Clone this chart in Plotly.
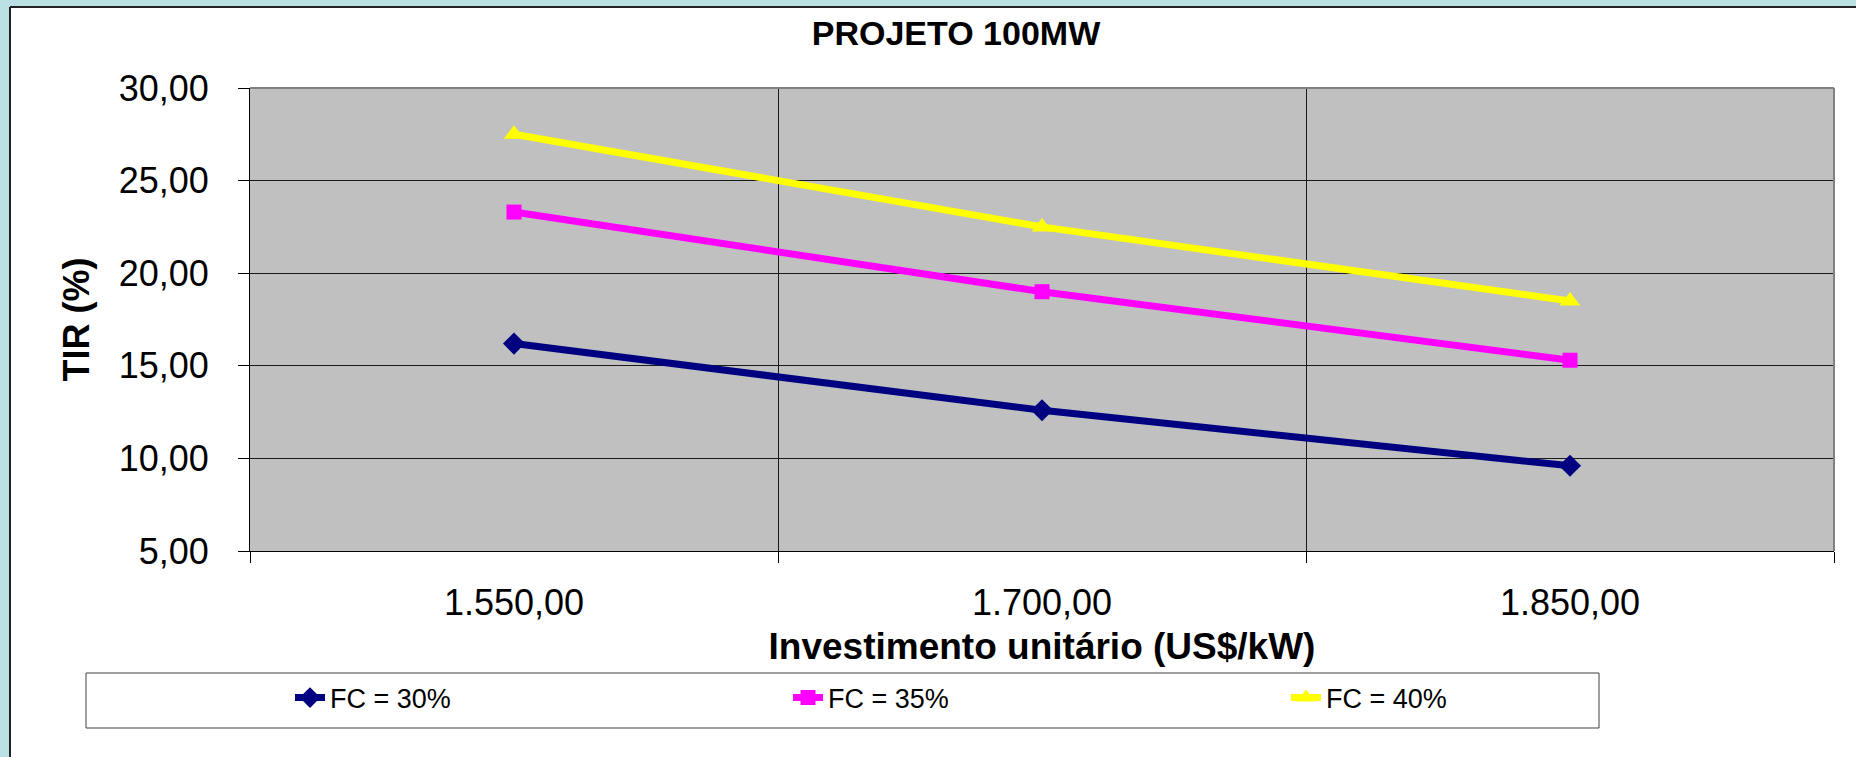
import plotly.graph_objects as go

# ---- data ----
investment = [1550, 1700, 1850]          # US$/kW
series_names = ["FC = 30%", "FC = 35%", "FC = 40%"]
tir_fc30 = [16.2, 12.6, 9.6]
tir_fc35 = [23.3, 19.0, 15.3]
tir_fc40 = [27.5, 22.5, 18.5]

colors = ["#000080", "#FF00FF", "#FFFF00"]
symbols = ["diamond", "square", "triangle-up"]
msizes = [17, 15, 18]

FONT = "Liberation Sans, Arial, sans-serif"
W, H = 1856, 757
L, R, T, B = 250, 22, 88, 206
PW, PH = W - L - R, H - T - B

def px(x):
    return (x - L) / PW

def py(y):
    return (H - B - y) / PH

step = investment[1] - investment[0]
x_lo = investment[0] - step / 2
x_hi = investment[-1] + step / 2
bounds = [x_lo] + [(a + b) / 2 for a, b in zip(investment[:-1], investment[1:])] + [x_hi]

fig = go.Figure()
for name, vals, c, s, ms in zip(series_names, [tir_fc30, tir_fc35, tir_fc40], colors, symbols, msizes):
    fig.add_trace(go.Scatter(
        x=investment, y=vals, name=name, mode="lines+markers",
        line=dict(color=c, width=7),
        marker=dict(symbol=s, size=ms, color=c, line=dict(width=0)),
    ))

shapes = [
    # page frame (light blue strips at top/left)
    dict(type="rect", xref="paper", yref="paper", x0=px(0), x1=px(10), y0=py(H), y1=py(0),
         fillcolor="#BAE0E4", line=dict(width=0), layer="above"),
    dict(type="rect", xref="paper", yref="paper", x0=px(0), x1=px(W), y0=py(7), y1=py(0),
         fillcolor="#BAE0E4", line=dict(width=0), layer="above"),
    dict(type="line", xref="paper", yref="paper", x0=px(10), x1=px(10), y0=py(H), y1=py(7),
         line=dict(color="#222222", width=2), layer="above"),
    dict(type="line", xref="paper", yref="paper", x0=px(10), x1=px(W), y0=py(7), y1=py(7),
         line=dict(color="#222222", width=2), layer="above"),
    # plot area top/right border (gray)
    dict(type="line", xref="paper", yref="paper", x0=0, x1=1, y0=1, y1=1,
         line=dict(color="#808080", width=2), layer="above"),
    dict(type="line", xref="paper", yref="paper", x0=1, x1=1, y0=0, y1=1,
         line=dict(color="#808080", width=2), layer="above"),
    # legend box
    dict(type="rect", xref="paper", yref="paper", x0=px(86), x1=px(1599), y0=py(728), y1=py(673),
         fillcolor="rgba(0,0,0,0)", line=dict(color="#404040", width=1), layer="above"),
]

fig.update_layout(
    width=W, height=H, autosize=False,
    margin=dict(l=L, r=R, t=T, b=B),
    paper_bgcolor="white", plot_bgcolor="#C0C0C0",
    separators=",.",
    font=dict(family=FONT, color="black"),
    title=dict(text="PROJETO 100MW", font=dict(family=FONT, size=34, weight="bold", color="black"),
               x=956 / W, xref="container", xanchor="center",
               y=1 - 33 / H, yref="container", yanchor="middle"),
    showlegend=True,
    legend=dict(orientation="h", xref="paper", yref="paper",
                x=px(290), xanchor="left", y=py(698), yanchor="middle",
                entrywidth=453, entrywidthmode="pixels",
                font=dict(family=FONT, size=27, color="black"),
                bgcolor="rgba(0,0,0,0)", borderwidth=0, traceorder="normal"),
    shapes=shapes,
)

fig.update_xaxes(
    range=[x_lo, x_hi], tickvals=investment, tickformat=",.2f",
    ticks="", showgrid=False, zeroline=False, automargin=False,
    showline=True, linecolor="black", linewidth=1,
    tickfont=dict(family=FONT, size=36, color="black"),
    ticklabelstandoff=20,
    minor=dict(tickmode="array", tickvals=bounds, ticks="outside", ticklen=11,
               tickcolor="black", tickwidth=1, showgrid=True, gridcolor="#1a1a1a", gridwidth=1),
    title=dict(text="Investimento unitário (US$/kW)",
               font=dict(family=FONT, size=37, weight="bold", color="black"), standoff=10),
)

fig.update_yaxes(
    range=[5, 30], dtick=5, tick0=5, tickformat=".2f", automargin=False,
    ticks="outside", ticklen=11, tickcolor="black", tickwidth=1,
    showgrid=True, gridcolor="#1a1a1a", gridwidth=1, zeroline=False,
    showline=True, linecolor="black", linewidth=1,
    tickfont=dict(family=FONT, size=36, color="black"),
    ticklabelstandoff=22,
    title=dict(text="TIR (%)", font=dict(family=FONT, size=36, weight="bold", color="black"), standoff=18),
)

fig.write_html("out.html", config={"displayModeBar": False},
               post_script="document.body.style.margin='0';document.body.style.overflow='hidden';")
